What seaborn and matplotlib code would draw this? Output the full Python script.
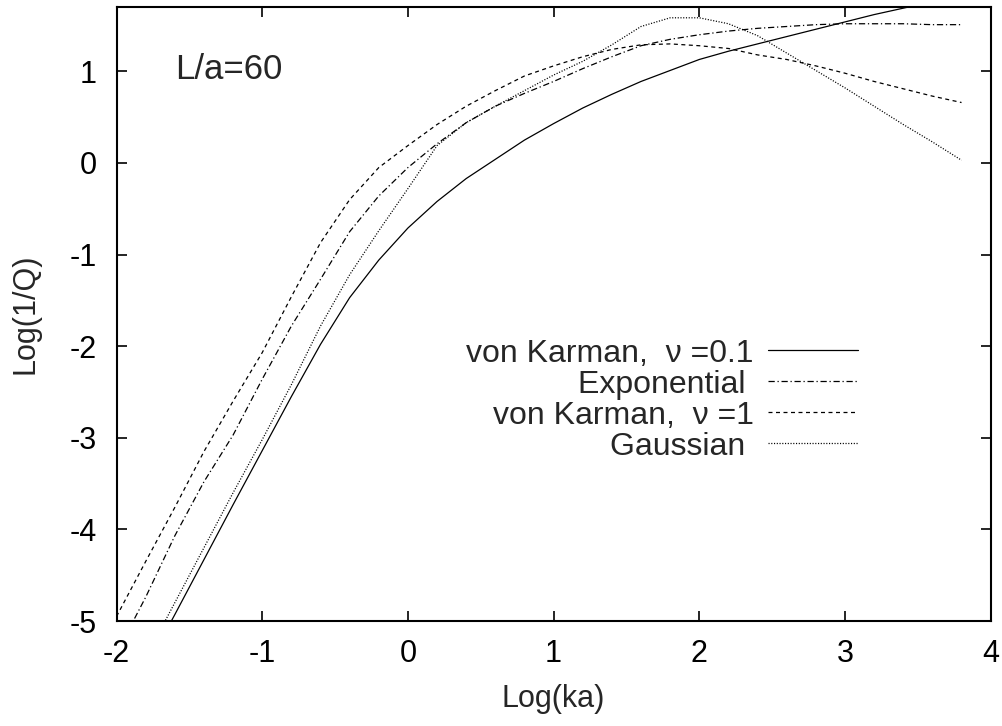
import numpy as np
import pandas as pd
import matplotlib
matplotlib.use("Agg")
import matplotlib.pyplot as plt
import seaborn as sns

# ---- data ----
log_ka = [-2.0, -1.8, -1.6, -1.4, -1.2, -1.0, -0.8, -0.6, -0.4, -0.2,
          0.0, 0.2, 0.4, 0.6, 0.8, 1.0, 1.2, 1.4, 1.6, 1.8,
          2.0, 2.2, 2.4, 2.6, 2.8, 3.0, 3.2, 3.4, 3.6, 3.8]

von_karman_01 = [-6.10, -5.52, -4.93, -4.33, -3.73, -3.14, -2.55, -1.98, -1.47, -1.06,
                 -0.71, -0.42, -0.17, 0.04, 0.25, 0.43, 0.60, 0.75, 0.89, 1.01,
                 1.13, 1.22, 1.30, 1.38, 1.46, 1.54, 1.62, 1.69, 1.76, 1.83]

exponential = [-5.35, -4.74, -4.07, -3.48, -2.97, -2.36, -1.78, -1.27, -0.75, -0.36,
               -0.05, 0.21, 0.44, 0.62, 0.76, 0.89, 1.03, 1.16, 1.28, 1.35,
               1.40, 1.44, 1.47, 1.49, 1.51, 1.52, 1.52, 1.52, 1.51, 1.51]

von_karman_1 = [-4.95, -4.35, -3.76, -3.15, -2.60, -2.07, -1.46, -0.87, -0.40, -0.05,
                0.19, 0.42, 0.62, 0.79, 0.95, 1.06, 1.16, 1.24, 1.29, 1.30,
                1.28, 1.25, 1.18, 1.13, 1.06, 0.98, 0.89, 0.81, 0.73, 0.66]

gaussian = [-6.00, -5.40, -4.80, -4.20, -3.60, -3.02, -2.42, -1.78, -1.22, -0.74,
            -0.28, 0.19, 0.44, 0.62, 0.79, 0.96, 1.11, 1.29, 1.49, 1.585,
            1.585, 1.52, 1.39, 1.20, 1.01, 0.82, 0.62, 0.42, 0.23, 0.03]

labels = ["von Karman,  \u03bd =0.1", "Exponential ", "von Karman,  \u03bd =1", "Gaussian "]
series = [von_karman_01, exponential, von_karman_1, gaussian]
x_ticks = [-2, -1, 0, 1, 2, 3, 4]
y_ticks = [-5, -4, -3, -2, -1, 0, 1]

# ---- styling ----
sns.set_theme(style="ticks")
plt.rcParams["font.family"] = ["Liberation Sans", "DejaVu Sans"]

styles = [
    dict(linestyle="-", linewidth=0.9),
    dict(linestyle=(0, (5.0, 2.2, 1.0, 2.2)), linewidth=0.9),
    dict(linestyle=(0, (3.2, 2.8)), linewidth=0.9),
    dict(linestyle=(0, (0.9, 1.3)), linewidth=0.9),
]

fig = plt.figure(figsize=(10.02, 7.26), dpi=100)
ax = fig.add_axes([0.1163, 0.1446, 0.8724, 0.8454])

for lab, ys, st in zip(labels, series, styles):
    df = pd.DataFrame({"x": log_ka, "y": ys})
    sns.lineplot(data=df, x="x", y="y", ax=ax, color="black", label=lab,
                 sort=False, errorbar=None, **st)

ax.set_xlim(-2, 4)
ax.set_ylim(-5, 1.7)
ax.set_xticks(x_ticks)
ax.set_yticks(y_ticks)
ax.set_xticklabels([str(v) for v in x_ticks])
ax.set_yticklabels([str(v) for v in y_ticks])

ax.tick_params(axis="both", which="major", direction="in", length=7.5, width=1.2,
               labelsize=22, top=True, right=True, colors="black")
ax.tick_params(axis="y", pad=14)
ax.tick_params(axis="x", pad=13)
for sp in ax.spines.values():
    sp.set_visible(True)
    sp.set_linewidth(1.5)
    sp.set_color("black")

ax.set_xlabel("Log(ka)", fontsize=22)
ax.set_ylabel("Log(1/Q)", fontsize=22)
ax.xaxis.set_label_coords(0.5, -0.103)
ax.yaxis.set_label_coords(-0.087, 0.5)

ax.text(-1.598, 0.92, "L/a=60", fontsize=25, ha="left", va="baseline")

leg = ax.legend(loc="center right", bbox_to_anchor=(0.848, 0.360), frameon=False,
                markerfirst=False, fontsize=23, handlelength=2.82, handletextpad=0.43,
                labelspacing=0.03, borderpad=0.0, borderaxespad=0.0)

fig.savefig("out.png", dpi=100, facecolor="white")
